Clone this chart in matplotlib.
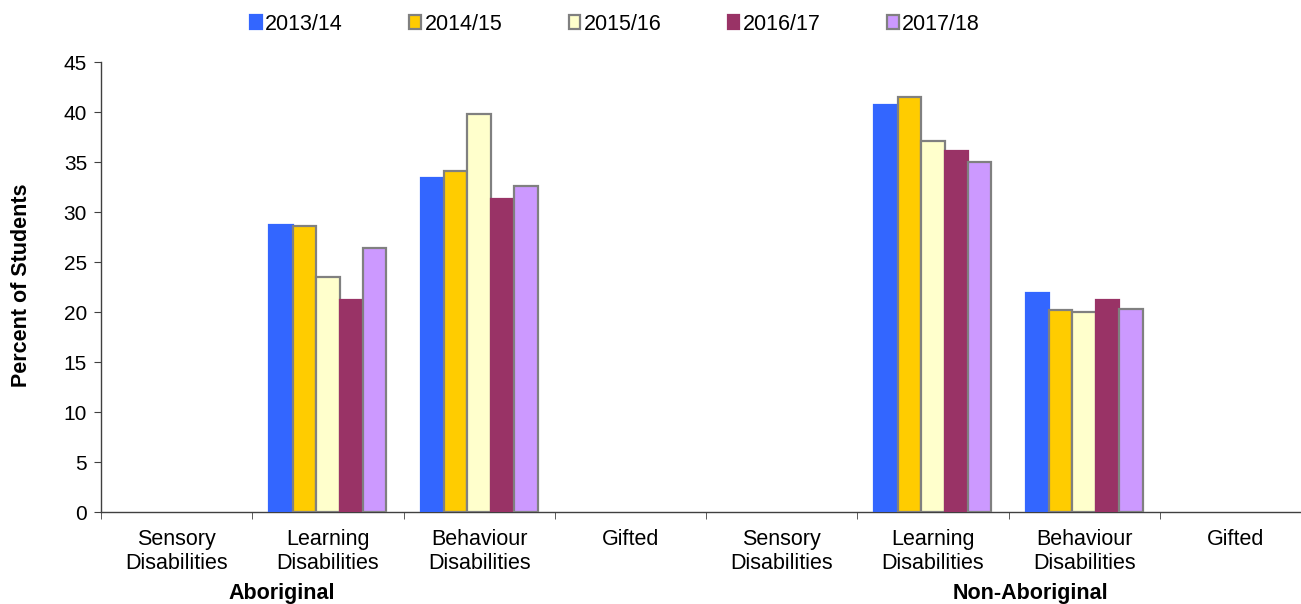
import numpy as np
import matplotlib
matplotlib.use("Agg")
import matplotlib.pyplot as plt
from matplotlib.patches import Patch

plt.rcParams['font.family'] = ['Liberation Sans', 'DejaVu Sans']

categories = ['Sensory\nDisabilities', 'Learning\nDisabilities', 'Behaviour\nDisabilities', 'Gifted',
              'Sensory\nDisabilities', 'Learning\nDisabilities', 'Behaviour\nDisabilities', 'Gifted']
groups = ['Aboriginal', 'Non-Aboriginal']
years = ['2013/14', '2014/15', '2015/16', '2016/17', '2017/18']

nan = np.nan
v_1314 = [nan, 28.7, 33.4, nan, nan, 40.7, 21.9, nan]
v_1415 = [nan, 28.6, 34.1, nan, nan, 41.5, 20.2, nan]
v_1516 = [nan, 23.5, 39.8, nan, nan, 37.1, 20.0, nan]
v_1617 = [nan, 21.2, 31.3, nan, nan, 36.1, 21.2, nan]
v_1718 = [nan, 26.4, 32.6, nan, nan, 35.0, 20.3, nan]
series = [v_1314, v_1415, v_1516, v_1617, v_1718]

colors = ['#3366FF', '#FFCC00', '#FFFFCC', '#993366', '#CC99FF']
edges = ['#3366FF', '#808080', '#808080', '#993366', '#808080']

FS = 15.5
fig = plt.figure(figsize=(13.01, 6.04), dpi=100)
W, H = 1301, 604
ax = fig.add_axes([101 / W, (H - 512) / H, 1210 / W, 450 / H])

x = np.arange(len(categories))
bw = 0.155
for i, vals in enumerate(series):
    ax.bar(x + (i - 2) * bw, vals, width=bw, color=colors[i],
           edgecolor=edges[i], linewidth=1.6, zorder=3)

ax.set_xlim(-0.5, len(categories) - 0.5)
ax.set_ylim(0, 45)
ax.set_yticks(np.arange(0, 46, 5))
ax.set_xticks(x)
ax.set_xticklabels(categories, fontsize=FS, linespacing=1.2)
ax.set_xticks(np.arange(-0.5, len(categories), 1), minor=True)
ax.tick_params(axis='x', which='major', length=0, pad=12)
ax.tick_params(axis='x', which='minor', length=5, color='#404040', direction='out')
ax.tick_params(axis='y', labelsize=15, length=5, color='#404040', direction='out', pad=5)

for s in ['top', 'right']:
    ax.spines[s].set_visible(False)
for s in ['left', 'bottom']:
    ax.spines[s].set_color('#404040')
    ax.spines[s].set_linewidth(1.0)

fig.text(22 / W, 1 - 285 / H, 'Percent of Students', fontsize=FS, fontweight='bold',
         rotation=90, ha='center', va='center')

fig.text(282 / W, 1 - 594 / H, groups[0], fontsize=FS, fontweight='bold', ha='center', va='center')
fig.text(1030 / W, 1 - 594 / H, groups[1], fontsize=FS, fontweight='bold', ha='center', va='center')

handles = [Patch(facecolor=colors[i], edgecolor=edges[i], linewidth=1.6) for i in range(5)]
fig.legend(handles, years, loc='center', bbox_to_anchor=(615 / W, 1 - 24 / H), ncol=5,
           frameon=False, fontsize=FS, handlelength=0.55, handleheight=0.6,
           handletextpad=0.15, columnspacing=3.08)

fig.savefig('out.png', dpi=100)
